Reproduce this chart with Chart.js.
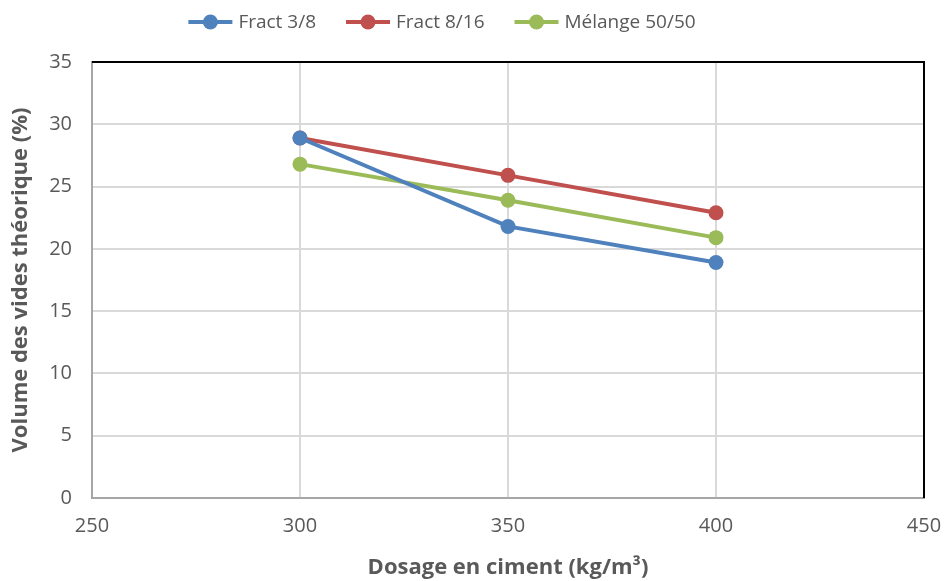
<!DOCTYPE html>
<html>
<head>
<meta charset="utf-8">
<script src="https://cdn.jsdelivr.net/npm/chart.js@4/dist/chart.umd.min.js"></script>
<style>
  html, body { margin: 0; padding: 0; background: #fff; }
  #wrap { width: 944px; height: 581px; }
</style>
</head>
<body>
<div id="wrap"><canvas id="c" width="944" height="581"></canvas></div>
<script>
// Cement dosage (kg/m³) on the x axis
const dosages = [300, 350, 400];
// Theoretical void volume (%) per aggregate fraction
const fract38 = [28.9, 21.8, 18.9];
const fract816 = [28.9, 25.9, 22.9];
const melange = [26.8, 23.9, 20.9];
const seriesNames = ['Fract 3/8', 'Fract 8/16', 'Mélange 50/50'];
const seriesColors = ['#4f81bd', '#c0504d', '#9bbb59'];
const xTicks = [250, 300, 350, 400, 450];
const yTicks = [0, 5, 10, 15, 20, 25, 30, 35];

const FONT = "'Open Sans', Lato, 'Liberation Sans', sans-serif";
const TEXT = '#595959';
const LINE_W = 4;
const MARKER_R = 7.5;

function toPoints(vals) {
  return dosages.map((x, i) => ({ x: x, y: vals[i] }));
}

// Black frame on the top and right edges of the plot area
const frame = {
  id: 'frame',
  afterDatasetsDraw(chart) {
    const a = chart.chartArea, ctx = chart.ctx;
    ctx.save();
    ctx.strokeStyle = '#000';
    ctx.lineWidth = 2;
    ctx.beginPath();
    ctx.moveTo(a.left, a.top);
    ctx.lineTo(a.right, a.top);
    ctx.lineTo(a.right, a.bottom);
    ctx.stroke();
    ctx.restore();
  }
};

// Legend row above the plot: line + marker glyph followed by the series name
const lineLegend = {
  id: 'lineLegend',
  afterDraw(chart, args, opts) {
    const ctx = chart.ctx;
    const glyphW = 44, textGap = 6, itemGap = 30;
    ctx.save();
    ctx.font = opts.fontSize + 'px ' + FONT;
    ctx.textBaseline = 'middle';
    const items = chart.data.datasets.map(d => ({
      label: d.label, color: d.borderColor, w: ctx.measureText(d.label).width
    }));
    let total = 0;
    items.forEach((it, i) => { total += glyphW + textGap + it.w + (i ? itemGap : 0); });
    let x = opts.centerX - total / 2;
    const y = opts.y;
    items.forEach(it => {
      ctx.strokeStyle = it.color;
      ctx.lineWidth = LINE_W;
      ctx.beginPath(); ctx.moveTo(x, y); ctx.lineTo(x + glyphW, y); ctx.stroke();
      ctx.fillStyle = it.color;
      ctx.beginPath(); ctx.arc(x + glyphW / 2, y, MARKER_R, 0, Math.PI * 2); ctx.fill();
      ctx.fillStyle = TEXT;
      ctx.textAlign = 'left';
      ctx.fillText(it.label, x + glyphW + textGap, y + 1);
      x += glyphW + textGap + it.w + itemGap;
    });
    ctx.restore();
  }
};

const datasets = [fract38, fract816, melange].map((vals, i) => ({
  label: seriesNames[i],
  data: toPoints(vals),
  borderColor: seriesColors[i],
  backgroundColor: seriesColors[i],
  borderWidth: LINE_W,
  pointRadius: MARKER_R,
  pointHoverRadius: MARKER_R,
  pointBorderWidth: 0,
  tension: 0
}));

new Chart(document.getElementById('c'), {
  type: 'line',
  data: { datasets },
  plugins: [frame, lineLegend],
  options: {
    responsive: false,
    animation: false,
    devicePixelRatio: 1,
    layout: { padding: { left: 0, right: 20, top: 62, bottom: 0 } },
    plugins: {
      tooltip: { enabled: false },
      legend: { display: false },
      lineLegend: { centerX: 442, y: 22, fontSize: 19 }
    },
    scales: {
      x: {
        type: 'linear',
        min: 250, max: 450,
        afterBuildTicks(scale) { scale.ticks = xTicks.map(v => ({ value: v })); },
        afterFit(scale) { scale.height = 83; scale.paddingLeft = 0; scale.paddingRight = 0; },
        grid: { color: '#d9d9d9', lineWidth: 2, drawTicks: false },
        border: { color: '#a6a6a6', width: 2 },
        ticks: { color: TEXT, font: { family: FONT, size: 20 }, padding: 16, maxRotation: 0 },
        title: {
          display: true,
          text: 'Dosage en ciment (kg/m³)',
          color: TEXT,
          font: { family: FONT, size: 22, weight: 'bold' },
          padding: { top: 4, bottom: 0 }
        }
      },
      y: {
        type: 'linear',
        min: 0, max: 35,
        afterBuildTicks(scale) { scale.ticks = yTicks.map(v => ({ value: v })); },
        afterFit(scale) { scale.width = 92; scale.paddingTop = 0; scale.paddingBottom = 0; },
        grid: { color: '#d9d9d9', lineWidth: 2, drawTicks: false },
        border: { color: '#a6a6a6', width: 2 },
        ticks: { color: TEXT, font: { family: FONT, size: 20 }, padding: 20 },
        title: {
          display: true,
          text: 'Volume des vides théorique (%)',
          color: TEXT,
          font: { family: FONT, size: 22, weight: 'bold' },
          padding: { top: 8, bottom: 0 }
        }
      }
    }
  }
});
</script>
</body>
</html>
